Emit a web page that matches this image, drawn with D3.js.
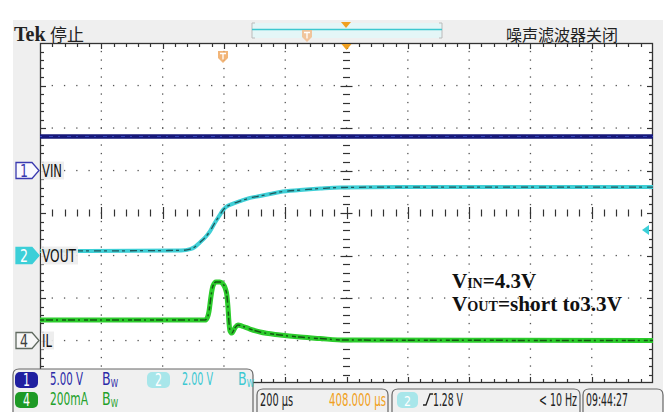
<!DOCTYPE html>
<html>
<head>
<meta charset="utf-8">
<script src="https://cdn.jsdelivr.net/npm/d3@7"></script>
<style>
  body { margin: 0; background: #fff; }
  svg { display: block; }
  .nar { font-family: "Liberation Sans Narrow", "DejaVu Sans Condensed", "Roboto Condensed", sans-serif; }
</style>
</head>
<body>
<div id="scope"></div>
<script>
// time axis in microseconds from left edge of screen, 200 us/div
var timeDomain = [0, 2000];
// channel 1 (VIN), 5 V/div
var vinT = [0, 2000];
var vinV = [4.0, 4.0];
// channel 2 (VOUT), 2 V/div
var voutT = [0, 460, 490, 505, 520, 540, 555, 570, 587, 597, 607, 626, 653, 685, 718, 750, 783, 848, 914, 980, 1175, 2000];
var voutV = [0.21, 0.24, 0.3, 0.4, 0.59, 0.87, 1.15, 1.53, 1.91, 2.14, 2.28, 2.42, 2.56, 2.71, 2.8, 2.89, 2.99, 3.08, 3.15, 3.2, 3.22, 3.22];
// channel 4 (IL), 200 mA/div
var ilT = [0, 538, 546, 551, 558, 564, 574, 587, 597, 604, 610, 613, 617, 620, 626, 636, 646, 659, 685, 718, 783, 848, 914, 995, 2000];
var ilA = [96, 96, 108, 134, 209, 256, 275, 275, 266, 247, 209, 162, 78, 45, 35, 59, 73, 68, 54, 40, 26, 16, 9, 2, 0];

var channels = [
  {id: "1", label: "VIN", offset: 1, perDiv: 5, scale: "5.00 V"},
  {id: "2", label: "VOUT", offset: -1, perDiv: 2, scale: "2.00 V"},
  {id: "4", label: "IL", offset: -3, perDiv: 200, scale: "200mA"}
];

var W = 670, H = 412;
var gl = 40, gr = 653, gt = 43, gb = 383;

var svg = d3.select("#scope").append("svg")
  .attr("width", W).attr("height", H);

var x = d3.scaleLinear().domain(timeDomain).range([gl, gr]);
var ydiv = d3.scaleLinear().domain([-4, 4]).range([gb, gt]);
var xdiv = d3.scaleLinear().domain([0, 10]).range([gl, gr]);

function chY(ch) {
  return function(v) { return ydiv(ch.offset + v / ch.perDiv); };
}

// squeeze a text horizontally so it spans len px from x0 (scope font is narrow)
function squeeze(t, x0, y0, len) {
  var nat = t.node().getComputedTextLength();
  var sx = nat > 0 ? len / nat : 1;
  t.attr("transform", "translate(" + x0 + "," + y0 + ") scale(" + sx + ",1)");
  return t;
}
function nt(x0, y0, txt, len, color, size) {
  var t = svg.append("text").attr("x", 0).attr("y", 0).attr("class", "nar")
    .attr("font-size", size || 17).attr("fill", color)
    .text(txt);
  return squeeze(t, x0, y0, len);
}

// background panel
svg.append("rect").attr("x", 13).attr("y", 20).attr("width", 650).attr("height", 392)
  .attr("fill", "#efefef");

svg.append("rect").attr("x", gl).attr("y", gt).attr("width", gr - gl).attr("height", gb - gt)
  .attr("fill", "#fff");

var grid = svg.append("g").attr("fill", "#555");

// dotted major lines
var minorY = d3.range(1, 40).map(function(j) { return j / 5 - 4; });
var minorX = d3.range(1, 50).map(function(j) { return j / 5; });
[1, 2, 3, 4, 6, 7, 8, 9].forEach(function(i) {
  grid.selectAll(null).data(minorY).enter().append("rect")
    .attr("x", xdiv(i) - 0.6).attr("y", function(d) { return ydiv(d) - 0.6; })
    .attr("width", 1.3).attr("height", 1.3);
});
[-3, -2, -1, 1, 2, 3].forEach(function(k) {
  grid.selectAll(null).data(minorX).enter().append("rect")
    .attr("x", function(d) { return xdiv(d) - 0.6; }).attr("y", ydiv(k) - 0.6)
    .attr("width", 1.3).attr("height", 1.3);
});

// tick marks on centre cross and edges
var ticks = svg.append("g").attr("stroke", "#333").attr("stroke-width", 1.2);
minorX.forEach(function(d) {
  var major = Math.abs(d - Math.round(d)) < 1e-6;
  var cx = Math.round(xdiv(d)) + 0.5;
  var hl = major ? 6 : 3.5;
  ticks.append("line").attr("x1", cx).attr("x2", cx)
    .attr("y1", ydiv(0) - hl).attr("y2", ydiv(0) + hl);
  ticks.append("line").attr("x1", cx).attr("x2", cx).attr("y1", gt).attr("y2", gt + (major ? 6 : 4));
  ticks.append("line").attr("x1", cx).attr("x2", cx).attr("y1", gb).attr("y2", gb - (major ? 6 : 4));
});
minorY.forEach(function(d) {
  var major = Math.abs(d - Math.round(d)) < 1e-6;
  var cy = Math.round(ydiv(d)) + 0.5;
  var hl = major ? 6 : 3.5;
  ticks.append("line").attr("y1", cy).attr("y2", cy)
    .attr("x1", xdiv(5) - hl).attr("x2", xdiv(5) + hl);
  ticks.append("line").attr("y1", cy).attr("y2", cy).attr("x1", gl).attr("x2", gl + (major ? 6 : 4));
  ticks.append("line").attr("y1", cy).attr("y2", cy).attr("x1", gr).attr("x2", gr - (major ? 6 : 4));
});

svg.append("rect").attr("x", gl + 0.5).attr("y", gt + 0.5)
  .attr("width", gr - gl - 1).attr("height", gb - gt - 1)
  .attr("fill", "none").attr("stroke", "#333").attr("stroke-width", 1.3);

// traces
function trace(ts, vs, ch, color, w, dark, dw, dash) {
  var pts = ts.map(function(t, i) { return [t, vs[i]]; });
  var yy = chY(ch);
  var line = d3.line().x(function(d) { return x(d[0]); }).y(function(d) { return yy(d[1]); })
    .curve(d3.curveMonotoneX);
  svg.append("path").attr("d", line(pts)).attr("fill", "none")
    .attr("stroke", color).attr("stroke-width", w).attr("stroke-linejoin", "round");
  svg.append("path").attr("d", line(pts)).attr("fill", "none")
    .attr("stroke", dark).attr("stroke-width", dw).attr("stroke-dasharray", dash)
    .attr("opacity", 0.8);
}
trace(vinT, vinV, channels[0], "#16187a", 4.5, "#3b4fc8", 1, "2,7,4,5");
trace(voutT, voutV, channels[1], "#3fcfd6", 4, "#14383c", 1.3, "7,3,3,5");
trace(ilT, ilA, channels[2], "#2ccc2c", 5, "#0e3a0e", 1.5, "4,2,7,3,2,4");

// channel markers on the left
var markerStyle = {
  "1": {fill: "#fafaff", stroke: "#3a3ab0", text: "#3a3ab0"},
  "2": {fill: "#3ccfd8", stroke: "#3ccfd8", text: "#fff"},
  "4": {fill: "#f7f7f7", stroke: "#606a60", text: "#404040"}
};
var labelW = {"1": 20, "2": 34, "4": 10};
channels.forEach(function(ch) {
  var cy = ydiv(ch.offset);
  var st = markerStyle[ch.id];
  svg.append("path")
    .attr("d", "M16," + (cy - 8) + "H32L39," + cy + "L32," + (cy + 8) + "H16Z")
    .attr("fill", st.fill).attr("stroke", st.stroke).attr("stroke-width", 1.3);
  nt(20, cy + 6, ch.id, 8, st.text, 17);
  svg.append("rect").attr("x", 41).attr("y", cy - 9).attr("width", labelW[ch.id] + 3).attr("height", 18)
    .attr("fill", "#ececec").attr("opacity", 0.9);
  nt(42, cy + 6.5, ch.label, labelW[ch.id], "#111", 18);
});

// trigger markers
function tMark(cx, top, fill) {
  svg.append("path")
    .attr("d", "M" + (cx - 5) + "," + top + "h10v7l-5,5l-5,-5z")
    .attr("fill", fill).attr("opacity", 0.85);
  svg.append("path")
    .attr("d", "M" + (cx - 3) + "," + (top + 2.5) + "h6M" + cx + "," + (top + 2.5) + "v6")
    .attr("stroke", "#fff").attr("stroke-width", 1.3);
}
tMark(223, 51, "#f0a860");

svg.append("path").attr("d", "M" + (xdiv(5) - 5) + "," + (gt + 1) + "h10l-5,6z").attr("fill", "#f0a020");

// trigger level arrow on the right
var trigY = 230;
svg.append("path").attr("d", "M642," + trigY + "l7,-5v10z").attr("fill", "#3ccfd8");

// record bar at the top
svg.append("rect").attr("x", 252).attr("y", 23).attr("width", 190).attr("height", 15)
  .attr("fill", "#e4f6f7");
svg.append("path").attr("d", "M255,23H252V38H255M439,23H442V38H439")
  .attr("fill", "none").attr("stroke", "#bbb");
svg.append("line").attr("x1", 252).attr("x2", 442).attr("y1", 29.5).attr("y2", 29.5)
  .attr("stroke", "#3cc8d0").attr("stroke-width", 1.6);
svg.append("path").attr("d", "M341,22h10l-5,6z").attr("fill", "#f0a020");
tMark(307, 30, "#f2bc8c");

// header text
svg.append("text").attr("x", 14).attr("y", 41)
  .attr("font-family", "Liberation Serif").attr("font-weight", "bold").attr("font-size", 20)
  .attr("fill", "#222").text("Tek");
svg.append("text").attr("x", 50).attr("y", 41)
  .attr("font-family", "Noto Sans CJK SC").attr("font-size", 17)
  .attr("fill", "#222").text("停止");
svg.append("text").attr("x", 506).attr("y", 41)
  .attr("font-family", "Noto Sans CJK SC").attr("font-size", 16)
  .attr("fill", "#222").text("噪声滤波器关闭");

// annotation
var ann = svg.append("g").attr("font-family", "Liberation Serif").attr("font-weight", "bold")
  .attr("fill", "#111");
var t1 = ann.append("text").attr("x", 452).attr("y", 288).attr("font-size", 21);
t1.append("tspan").text("V");
t1.append("tspan").attr("font-size", 14).text("IN");
t1.append("tspan").text("=4.3V");
var t2 = ann.append("text").attr("x", 452).attr("y", 311).attr("font-size", 21)
  .attr("textLength", 170).attr("lengthAdjust", "spacingAndGlyphs");
t2.append("tspan").text("V");
t2.append("tspan").attr("font-size", 14).text("OUT");
t2.append("tspan").text("=short to3.3V");

// bottom readout panels
function panel(x0, y0, x1, y1) {
  var r = 6;
  svg.append("path")
    .attr("d", "M" + x0 + "," + (H + 1) + "V" + (y0 + r) + "Q" + x0 + "," + y0 + " " + (x0 + r) + "," + y0 +
      "H" + (x1 - r) + "Q" + x1 + "," + y0 + " " + x1 + "," + (y0 + r) + "V" + (H + 1))
    .attr("fill", "#f0f0f0").attr("stroke", "#666").attr("stroke-width", 1.2);
}
panel(13, 369, 253, H);
panel(257, 389, 388, H);
panel(392, 389, 580, H);
panel(583, 389, 663, H);

function badge(x0, y0, w, fill, txt, size) {
  svg.append("rect").attr("x", x0).attr("y", y0).attr("width", w).attr("height", 16).attr("rx", 5)
    .attr("fill", fill);
  nt(x0 + w / 2 - 3.5, y0 + 14, txt, 7, "#fff", size || 17);
}
function bw(x0, y0, color) {
  var t = svg.append("text").attr("x", 0).attr("y", 0).attr("class", "nar")
    .attr("font-size", 17).attr("fill", color);
  t.append("tspan").text("B");
  t.append("tspan").attr("font-size", 10).attr("dy", 2).text("W");
  squeeze(t, x0, y0, 16);
}
var navy = "#2a2aa8", cyan = "#3cc8d2", green = "#22a02a", orange = "#f0a020";

badge(15, 372, 23, "#2020a0", channels[0].id);
nt(50, 385, channels[0].scale, 33, navy);
bw(102, 385, navy);
badge(147, 372, 23, "#a8e6ea", channels[1].id);
nt(182, 385, channels[1].scale, 31, cyan);
bw(238, 385, cyan);

badge(15, 392, 23, "#1e9a26", channels[2].id);
nt(50, 405, channels[2].scale, 38, green);
bw(102, 405, green);

nt(260, 406, "200\u00a0\u00b5s", 33, "#222");
nt(329, 406, "408.000\u00a0\u00b5s", 57, orange);

badge(397, 392, 21, "#a8e6ea", channels[1].id, 14);
svg.append("path").attr("d", "M423,405h3l4,-11h3").attr("fill", "none")
  .attr("stroke", "#222").attr("stroke-width", 1.3);
nt(433, 406, "1.28 V", 30, "#222");
nt(539, 406, "< 10 Hz", 38, "#222");
nt(586, 406, "09:44:27", 42, "#222");
</script>
</body>
</html>
